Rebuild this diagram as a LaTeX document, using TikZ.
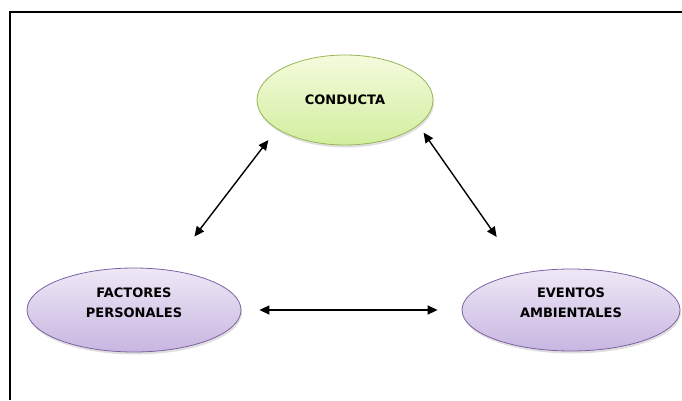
\documentclass[tikz,border=0pt]{standalone}
\usepackage{fontspec}
\setmainfont{DejaVu Sans}
\usetikzlibrary{shapes.geometric, positioning, arrows.meta, shadows}

\definecolor{verdeclaro}{HTML}{F4FBDD}
\definecolor{verdeoscuro}{HTML}{D2EE9E}
\definecolor{bordeverde}{HTML}{98B557}
\definecolor{lilaclaro}{HTML}{EEE8F6}
\definecolor{lilaoscuro}{HTML}{C8B6E1}
\definecolor{bordelila}{HTML}{7D63A3}

\begin{document}
\begin{tikzpicture}[x=1pt, y=1pt, node distance = 200pt, on grid,
    base/.style = {ellipse, inner sep=0pt, align=center,
                   font=\fontsize{13}{20}\selectfont\bfseries,
                   drop shadow={opacity=0.25, shadow xshift=1pt, shadow yshift=-2.5pt}},
    ovalverde/.style = {base, draw=bordeverde, line width=0.8pt,
                        top color=verdeclaro, bottom color=verdeoscuro},
    ovallila/.style = {base, draw=bordelila, line width=0.8pt, text depth=15pt,
                       top color=lilaclaro, bottom color=lilaoscuro},
    flecha/.style = {{Triangle[length=10pt, width=9pt]}-{Triangle[length=10pt, width=9pt]},
                     line width=1.4pt}]
  \useasboundingbox (0,0) rectangle (682,400);
  % marco
  \draw[line width=2.5pt] (10,0) -- (10,388) -- (682,388);
  % nodos
  \node[ovalverde, minimum width=176pt, minimum height=90pt] (conducta) at (345,300) {CONDUCTA};
  \node[ovallila, minimum width=214pt, minimum height=84pt] (factores)
    [below left=210pt and 211pt of conducta] {FACTORES\\PERSONALES};
  \node[ovallila, minimum width=218pt, minimum height=82pt] (eventos)
    [right=437pt of factores] {EVENTOS\\AMBIENTALES};
  % flechas
  \draw[flecha, shorten <=42pt, shorten >=14pt] (factores.49) -- (conducta.203);
  \draw[flecha, shorten <=9pt, shorten >=44pt] (conducta.341) -- (eventos.143);
  \draw[flecha, shorten <=18pt, shorten >=24pt] (factores.east) -- (eventos.west);
\end{tikzpicture}
\end{document}
